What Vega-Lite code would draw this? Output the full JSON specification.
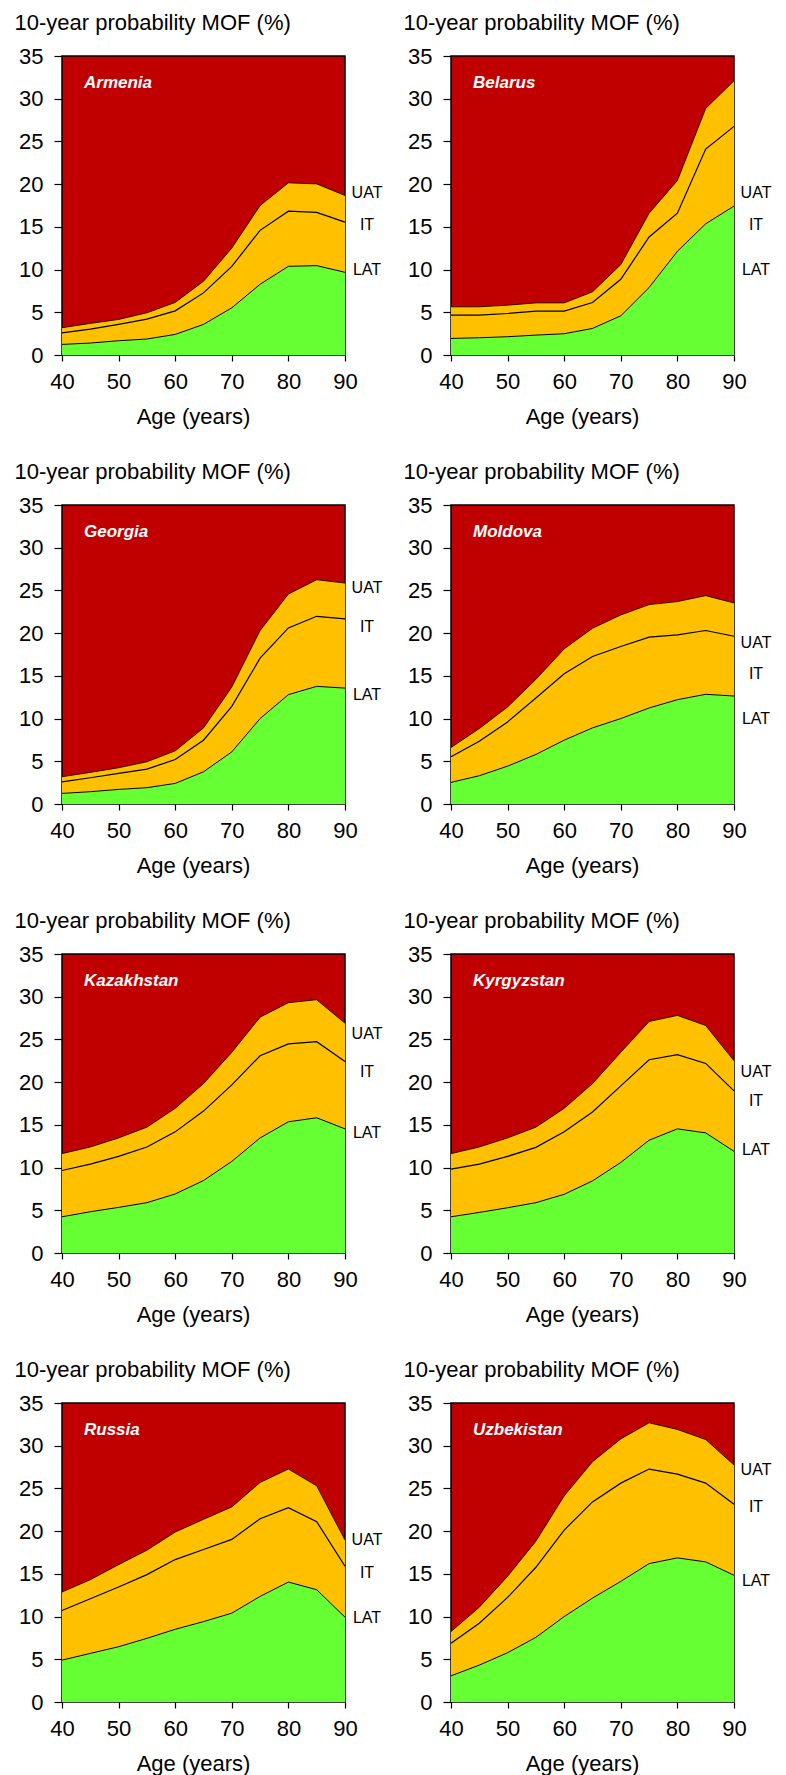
{
  "$schema": "https://vega.github.io/schema/vega-lite/v6.json",
  "padding": {"left": 13, "top": 10, "right": 0, "bottom": 0},
  "background": "white",
  "data": {"values": [
    {"c":"Armenia","k":"curve","age":40,"LAT":1.24,"IT":2.6,"UAT":3.19},
    {"c":"Armenia","k":"curve","age":45,"LAT":1.4,"IT":3.03,"UAT":3.7},
    {"c":"Armenia","k":"curve","age":50,"LAT":1.67,"IT":3.58,"UAT":4.16},
    {"c":"Armenia","k":"curve","age":55,"LAT":1.87,"IT":4.2,"UAT":4.94},
    {"c":"Armenia","k":"curve","age":60,"LAT":2.41,"IT":5.17,"UAT":6.15},
    {"c":"Armenia","k":"curve","age":65,"LAT":3.58,"IT":7.27,"UAT":8.63},
    {"c":"Armenia","k":"curve","age":70,"LAT":5.52,"IT":10.38,"UAT":12.52},
    {"c":"Armenia","k":"curve","age":75,"LAT":8.28,"IT":14.59,"UAT":17.5},
    {"c":"Armenia","k":"curve","age":80,"LAT":10.38,"IT":16.84,"UAT":20.15},
    {"c":"Armenia","k":"curve","age":85,"LAT":10.46,"IT":16.69,"UAT":20.03},
    {"c":"Armenia","k":"curve","age":90,"LAT":9.68,"IT":15.56,"UAT":18.67},
    {"c":"Belarus","k":"curve","age":40,"LAT":1.94,"IT":4.67,"UAT":5.64},
    {"c":"Belarus","k":"curve","age":45,"LAT":2.02,"IT":4.67,"UAT":5.64},
    {"c":"Belarus","k":"curve","age":50,"LAT":2.14,"IT":4.86,"UAT":5.83},
    {"c":"Belarus","k":"curve","age":55,"LAT":2.33,"IT":5.13,"UAT":6.1},
    {"c":"Belarus","k":"curve","age":60,"LAT":2.49,"IT":5.13,"UAT":6.1},
    {"c":"Belarus","k":"curve","age":65,"LAT":3.11,"IT":6.15,"UAT":7.39},
    {"c":"Belarus","k":"curve","age":70,"LAT":4.59,"IT":8.87,"UAT":10.58},
    {"c":"Belarus","k":"curve","age":75,"LAT":7.9,"IT":13.81,"UAT":16.6},
    {"c":"Belarus","k":"curve","age":80,"LAT":12.14,"IT":16.6,"UAT":20.42},
    {"c":"Belarus","k":"curve","age":85,"LAT":15.36,"IT":24.11,"UAT":28.86},
    {"c":"Belarus","k":"curve","age":90,"LAT":17.43,"IT":26.76,"UAT":32.09},
    {"c":"Georgia","k":"curve","age":40,"LAT":1.24,"IT":2.6,"UAT":3.19},
    {"c":"Georgia","k":"curve","age":45,"LAT":1.44,"IT":3.07,"UAT":3.7},
    {"c":"Georgia","k":"curve","age":50,"LAT":1.71,"IT":3.58,"UAT":4.24},
    {"c":"Georgia","k":"curve","age":55,"LAT":1.91,"IT":4.08,"UAT":4.94},
    {"c":"Georgia","k":"curve","age":60,"LAT":2.41,"IT":5.21,"UAT":6.22},
    {"c":"Georgia","k":"curve","age":65,"LAT":3.77,"IT":7.47,"UAT":8.9},
    {"c":"Georgia","k":"curve","age":70,"LAT":6.1,"IT":11.43,"UAT":13.69},
    {"c":"Georgia","k":"curve","age":75,"LAT":10.0,"IT":17.07,"UAT":20.3},
    {"c":"Georgia","k":"curve","age":80,"LAT":12.8,"IT":20.61,"UAT":24.58},
    {"c":"Georgia","k":"curve","age":85,"LAT":13.77,"IT":21.97,"UAT":26.25},
    {"c":"Georgia","k":"curve","age":90,"LAT":13.57,"IT":21.66,"UAT":25.86},
    {"c":"Moldova","k":"curve","age":40,"LAT":2.53,"IT":5.52,"UAT":6.61},
    {"c":"Moldova","k":"curve","age":45,"LAT":3.31,"IT":7.35,"UAT":8.83},
    {"c":"Moldova","k":"curve","age":50,"LAT":4.43,"IT":9.61,"UAT":11.36},
    {"c":"Moldova","k":"curve","age":55,"LAT":5.8,"IT":12.41,"UAT":14.59},
    {"c":"Moldova","k":"curve","age":60,"LAT":7.47,"IT":15.25,"UAT":18.16},
    {"c":"Moldova","k":"curve","age":65,"LAT":8.91,"IT":17.27,"UAT":20.57},
    {"c":"Moldova","k":"curve","age":70,"LAT":10.0,"IT":18.44,"UAT":22.13},
    {"c":"Moldova","k":"curve","age":75,"LAT":11.24,"IT":19.53,"UAT":23.34},
    {"c":"Moldova","k":"curve","age":80,"LAT":12.21,"IT":19.8,"UAT":23.69},
    {"c":"Moldova","k":"curve","age":85,"LAT":12.84,"IT":20.31,"UAT":24.39},
    {"c":"Moldova","k":"curve","age":90,"LAT":12.64,"IT":19.64,"UAT":23.53},
    {"c":"Kazakhstan","k":"curve","age":40,"LAT":4.24,"IT":9.66,"UAT":11.63},
    {"c":"Kazakhstan","k":"curve","age":45,"LAT":4.83,"IT":10.41,"UAT":12.41},
    {"c":"Kazakhstan","k":"curve","age":50,"LAT":5.34,"IT":11.31,"UAT":13.47},
    {"c":"Kazakhstan","k":"curve","age":55,"LAT":5.89,"IT":12.41,"UAT":14.73},
    {"c":"Kazakhstan","k":"curve","age":60,"LAT":6.91,"IT":14.18,"UAT":16.93},
    {"c":"Kazakhstan","k":"curve","age":65,"LAT":8.48,"IT":16.61,"UAT":19.83},
    {"c":"Kazakhstan","k":"curve","age":70,"LAT":10.72,"IT":19.68,"UAT":23.49},
    {"c":"Kazakhstan","k":"curve","age":75,"LAT":13.47,"IT":23.09,"UAT":27.61},
    {"c":"Kazakhstan","k":"curve","age":80,"LAT":15.36,"IT":24.47,"UAT":29.3},
    {"c":"Kazakhstan","k":"curve","age":85,"LAT":15.83,"IT":24.74,"UAT":29.65},
    {"c":"Kazakhstan","k":"curve","age":90,"LAT":14.53,"IT":22.43,"UAT":26.9},
    {"c":"Kyrgyzstan","k":"curve","age":40,"LAT":4.24,"IT":9.82,"UAT":11.63},
    {"c":"Kyrgyzstan","k":"curve","age":45,"LAT":4.75,"IT":10.41,"UAT":12.41},
    {"c":"Kyrgyzstan","k":"curve","age":50,"LAT":5.3,"IT":11.31,"UAT":13.47},
    {"c":"Kyrgyzstan","k":"curve","age":55,"LAT":5.89,"IT":12.37,"UAT":14.73},
    {"c":"Kyrgyzstan","k":"curve","age":60,"LAT":6.87,"IT":14.18,"UAT":16.93},
    {"c":"Kyrgyzstan","k":"curve","age":65,"LAT":8.44,"IT":16.5,"UAT":19.83},
    {"c":"Kyrgyzstan","k":"curve","age":70,"LAT":10.6,"IT":19.56,"UAT":23.49},
    {"c":"Kyrgyzstan","k":"curve","age":75,"LAT":13.2,"IT":22.62,"UAT":27.1},
    {"c":"Kyrgyzstan","k":"curve","age":80,"LAT":14.53,"IT":23.21,"UAT":27.81},
    {"c":"Kyrgyzstan","k":"curve","age":85,"LAT":14.06,"IT":22.19,"UAT":26.63},
    {"c":"Kyrgyzstan","k":"curve","age":90,"LAT":11.9,"IT":18.97,"UAT":22.5},
    {"c":"Russia","k":"curve","age":40,"LAT":4.9,"IT":10.71,"UAT":12.87},
    {"c":"Russia","k":"curve","age":45,"LAT":5.69,"IT":12.08,"UAT":14.32},
    {"c":"Russia","k":"curve","age":50,"LAT":6.47,"IT":13.46,"UAT":16.08},
    {"c":"Russia","k":"curve","age":55,"LAT":7.45,"IT":14.91,"UAT":17.77},
    {"c":"Russia","k":"curve","age":60,"LAT":8.51,"IT":16.67,"UAT":19.89},
    {"c":"Russia","k":"curve","age":65,"LAT":9.41,"IT":17.85,"UAT":21.38},
    {"c":"Russia","k":"curve","age":70,"LAT":10.4,"IT":19.03,"UAT":22.83},
    {"c":"Russia","k":"curve","age":75,"LAT":12.36,"IT":21.46,"UAT":25.7},
    {"c":"Russia","k":"curve","age":80,"LAT":14.04,"IT":22.75,"UAT":27.27},
    {"c":"Russia","k":"curve","age":85,"LAT":13.14,"IT":21.11,"UAT":25.3},
    {"c":"Russia","k":"curve","age":90,"LAT":9.93,"IT":15.89,"UAT":18.95},
    {"c":"Uzbekistan","k":"curve","age":40,"LAT":3.06,"IT":6.87,"UAT":8.24},
    {"c":"Uzbekistan","k":"curve","age":45,"LAT":4.32,"IT":9.22,"UAT":11.1},
    {"c":"Uzbekistan","k":"curve","age":50,"LAT":5.77,"IT":12.24,"UAT":14.71},
    {"c":"Uzbekistan","k":"curve","age":55,"LAT":7.57,"IT":15.77,"UAT":18.83},
    {"c":"Uzbekistan","k":"curve","age":60,"LAT":10.0,"IT":20.13,"UAT":24.13},
    {"c":"Uzbekistan","k":"curve","age":65,"LAT":12.16,"IT":23.42,"UAT":28.13},
    {"c":"Uzbekistan","k":"curve","age":70,"LAT":14.12,"IT":25.62,"UAT":30.8},
    {"c":"Uzbekistan","k":"curve","age":75,"LAT":16.2,"IT":27.27,"UAT":32.68},
    {"c":"Uzbekistan","k":"curve","age":80,"LAT":16.87,"IT":26.68,"UAT":31.9},
    {"c":"Uzbekistan","k":"curve","age":85,"LAT":16.4,"IT":25.62,"UAT":30.72},
    {"c":"Uzbekistan","k":"curve","age":90,"LAT":14.83,"IT":23.15,"UAT":27.74},
    {"c":"Armenia","k":"lab","lab":"UAT","pos":19.0},
    {"c":"Armenia","k":"lab","lab":"IT","pos":15.2},
    {"c":"Armenia","k":"lab","lab":"LAT","pos":9.9},
    {"c":"Belarus","k":"lab","lab":"UAT","pos":19.0},
    {"c":"Belarus","k":"lab","lab":"IT","pos":15.2},
    {"c":"Belarus","k":"lab","lab":"LAT","pos":9.9},
    {"c":"Georgia","k":"lab","lab":"UAT","pos":25.3},
    {"c":"Georgia","k":"lab","lab":"IT","pos":20.7},
    {"c":"Georgia","k":"lab","lab":"LAT","pos":12.8},
    {"c":"Moldova","k":"lab","lab":"UAT","pos":18.9},
    {"c":"Moldova","k":"lab","lab":"IT","pos":15.2},
    {"c":"Moldova","k":"lab","lab":"LAT","pos":9.9},
    {"c":"Kazakhstan","k":"lab","lab":"UAT","pos":25.6},
    {"c":"Kazakhstan","k":"lab","lab":"IT","pos":21.2},
    {"c":"Kazakhstan","k":"lab","lab":"LAT","pos":14.0},
    {"c":"Kyrgyzstan","k":"lab","lab":"UAT","pos":21.2},
    {"c":"Kyrgyzstan","k":"lab","lab":"IT","pos":17.8},
    {"c":"Kyrgyzstan","k":"lab","lab":"LAT","pos":12.1},
    {"c":"Russia","k":"lab","lab":"UAT","pos":19.0},
    {"c":"Russia","k":"lab","lab":"IT","pos":15.1},
    {"c":"Russia","k":"lab","lab":"LAT","pos":9.8},
    {"c":"Uzbekistan","k":"lab","lab":"UAT","pos":27.1},
    {"c":"Uzbekistan","k":"lab","lab":"IT","pos":22.8},
    {"c":"Uzbekistan","k":"lab","lab":"LAT","pos":14.2}
  ]},
  "facet": {
    "field": "c",
    "type": "nominal",
    "sort": ["Armenia","Belarus","Georgia","Moldova","Kazakhstan","Kyrgyzstan","Russia","Uzbekistan"],
    "header": {"labels": false},
    "title": null
  },
  "columns": 2,
  "bounds": "flush",
  "spacing": {"row": 150, "column": 106},
  "resolve": {"axis": {"x": "independent", "y": "independent"}},
  "spec": {
    "width": 283,
    "height": 299,
    "layer": [
      {
        "transform": [{"filter": {"field": "k", "equal": "curve"}}],
        "mark": {"type": "area", "color": "#FFC000"},
        "encoding": {
          "x": {
            "field": "age",
            "type": "quantitative",
            "scale": {"domain": [40, 90], "nice": false, "zero": false},
            "axis": {
              "values": [40,45,50,55,60,65,70,75,80,85,90],
              "labelExpr": "datum.value % 10 === 0 ? datum.label : ''",
              "title": "Age (years)",
              "titleX": 131,
              "titleY": 68,
              "titleBaseline": "alphabetic",
              "tickSize": 6,
              "labelBaseline": "alphabetic",
              "labelPadding": 27,
              "labelFlush": false,
              "labelOverlap": false
            }
          },
          "y": {
            "field": "UAT",
            "type": "quantitative",
            "scale": {"domain": [0, 35], "nice": false},
            "axis": {
              "values": [0,5,10,15,20,25,30,35],
              "title": "10-year probability MOF (%)",
              "titleAngle": 0,
              "titleAlign": "left",
              "titleBaseline": "alphabetic",
              "titleX": -48,
              "titleY": -27,
              "tickSize": 8,
              "labelPadding": 11
            }
          }
        }
      },
      {
        "transform": [{"filter": {"field": "k", "equal": "curve"}}],
        "mark": {"type": "area", "color": "#66FF33"},
        "encoding": {"x": {"field": "age", "type": "quantitative"}, "y": {"field": "LAT", "type": "quantitative"}}
      },
      {
        "transform": [{"filter": {"field": "k", "equal": "curve"}}],
        "mark": {"type": "line", "color": "black", "strokeWidth": 0.8},
        "encoding": {"x": {"field": "age", "type": "quantitative"}, "y": {"field": "UAT", "type": "quantitative"}}
      },
      {
        "transform": [{"filter": {"field": "k", "equal": "curve"}}],
        "mark": {"type": "line", "color": "black", "strokeWidth": 1.2},
        "encoding": {"x": {"field": "age", "type": "quantitative"}, "y": {"field": "IT", "type": "quantitative"}}
      },
      {
        "transform": [{"filter": {"field": "k", "equal": "curve"}}],
        "mark": {"type": "line", "color": "black", "strokeWidth": 1},
        "encoding": {"x": {"field": "age", "type": "quantitative"}, "y": {"field": "LAT", "type": "quantitative"}}
      },
      {
        "transform": [{"filter": "datum.age === 40"}],
        "mark": {"type": "text", "color": "white", "fontSize": 17, "fontWeight": "bold", "fontStyle": "italic", "align": "left", "baseline": "middle", "dx": 22, "dy": 27},
        "encoding": {
          "x": {"datum": 40, "type": "quantitative"},
          "y": {"datum": 35, "type": "quantitative"},
          "text": {"field": "c", "type": "nominal"}
        }
      },
      {
        "transform": [{"filter": {"field": "k", "equal": "lab"}}],
        "mark": {"type": "text", "color": "black", "fontSize": 16, "align": "center", "baseline": "middle", "dx": 22},
        "encoding": {
          "x": {"datum": 90, "type": "quantitative"},
          "y": {"field": "pos", "type": "quantitative"},
          "text": {"field": "lab", "type": "nominal"}
        }
      }
    ]
  },
  "config": {
    "font": "Liberation Sans",
    "header": {"labels": false, "labelFontSize": 0, "labelPadding": 0},
    "view": {"fill": "#C00000", "stroke": "black", "strokeWidth": 1.5},
    "axis": {
      "grid": false,
      "domain": false,
      "labelFontSize": 22,
      "labelColor": "black",
      "titleFontSize": 22,
      "titleFontWeight": "normal",
      "titleColor": "black",
      "tickColor": "black",
      "tickWidth": 1.2
    }
  }
}
